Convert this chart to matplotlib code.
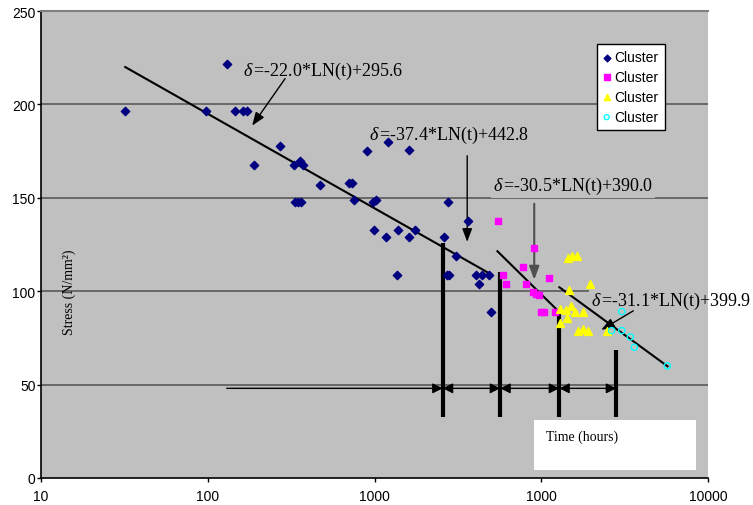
import matplotlib
matplotlib.use("Agg")
import matplotlib.pyplot as plt
from matplotlib.ticker import NullLocator
from matplotlib.patches import Rectangle

plt.rcParams["font.family"] = ["Liberation Sans", "DejaVu Sans"]
plt.rcParams["mathtext.fontset"] = "custom"
plt.rcParams["mathtext.it"] = "Liberation Serif:italic"
plt.rcParams["mathtext.rm"] = "Liberation Serif"

# ── data (time in hours, stress in N/mm²) ─────────────────────────────
blue_t = [32, 97, 130, 145, 162, 171, 190, 272, 330, 334, 347, 363, 358, 375,
          468, 708, 731, 758, 900, 1203, 1621, 973, 1019, 2754, 3631, 995,
          1377, 1738, 1167, 1621, 2594, 3078, 1361, 2716, 2780, 4074, 4406,
          4842, 4206, 5023]
blue_s = [196.6, 196.6, 221.6, 196.6, 196.6, 196.6, 167.7, 177.7, 167.7, 147.7,
          147.7, 147.7, 169.7, 167.8, 156.8, 157.9, 157.9, 148.8, 174.8, 179.8,
          175.7, 148.0, 148.9, 147.7, 137.7, 132.9, 132.9, 132.9, 128.9, 128.9,
          128.9, 118.8, 108.7, 108.7, 108.7, 108.7, 108.7, 108.7, 103.8, 88.8]

pink_t = [5470, 9036, 5861, 6166, 7745, 8128, 11066, 8953, 9290, 9727, 9908,
          10423, 12134]
pink_s = [137.8, 123.0, 108.7, 103.9, 112.9, 103.9, 107.0, 99.8, 98.6, 97.7,
          88.8, 88.8, 88.8]

yellow_t = [14380, 15290, 16290, 19680, 14580, 13010, 14130, 15100, 16000,
            17790, 14220, 12910, 16600, 17790, 19010, 24720]
yellow_s = [117.7, 118.8, 118.8, 103.8, 100.6, 90.3, 89.8, 92.0, 88.8, 88.8,
            85.7, 83.0, 78.9, 79.7, 78.9, 78.8]

cyan_t = [26420, 30410, 30410, 34200, 36140, 57020]
cyan_s = [78.9, 89.1, 78.9, 75.5, 70.0, 60.0]

# trend line segments (t0, s0, t1, s1)
trend_segments = [(32, 220.0, 4940, 109.3),
                  (5460, 121.4, 12270, 90.5),
                  (12850, 102.1, 57200, 59.8)]

# cluster boundaries (t, top stress), bottom stress, arrow level
bound_t = [2565, 5675, 12820, 28180]
bound_top = [125.9, 110.4, 89.5, 68.6]
bound_bottom = 32.7
span_start_t = 130
span_level = 48.0

# equation labels: text, text position, arrow tail, arrow head, arrow colour
equations = [
    ("-22.0*LN(t)+295.6", (163, 218.0), (291, 213.8), (184.6, 188.6), "black", 1.0),
    ("-37.4*LN(t)+442.8", (929, 183.7), (3597, 172.5), (3597, 126.4), "black", 1.0),
    ("-30.5*LN(t)+390.0", (5150, 156.6), (9077, 146.8), (9077, 106.1), "#505050", 1.5),
    ("-31.1*LN(t)+399.9", (19800, 94.8), (35650, 89.5), (22910, 79.3), "black", 1.0),
]

x_ticks = [10, 100, 1000, 10000, 100000]
x_tick_labels = ["10", "100", "1000", "1000", "10000"]
y_ticks = [0, 50, 100, 150, 200, 250]
legend_labels = ["Cluster", "Cluster", "Cluster", "Cluster"]

# ── figure ────────────────────────────────────────────────────────────
fig = plt.figure(figsize=(7.53, 5.06), dpi=100)
ax = fig.add_axes([41 / 753, 27 / 506, 667 / 753, 467 / 506])
ax.set_facecolor("#C0C0C0")
ax.set_xscale("log")
ax.set_xlim(10, 100000)
ax.set_ylim(0, 250)
ax.set_xticks(x_ticks)
ax.set_xticklabels(x_tick_labels)
ax.xaxis.set_minor_locator(NullLocator())
ax.set_yticks(y_ticks)
ax.tick_params(axis="both", labelsize=10, length=3, width=1, direction="out")
ax.tick_params(axis="x", pad=5)
ax.tick_params(axis="y", pad=1)

for y in y_ticks[1:-1]:
    ax.axhline(y, color="#505050", lw=1.1, zorder=1)

ax.spines["right"].set_visible(False)
ax.spines["top"].set_color("#808080")
ax.spines["top"].set_linewidth(1.5)
for side in ("left", "bottom"):
    ax.spines[side].set_linewidth(1.2)

# equation texts and arrows
for eq, pos, tail, head, col, lw in equations:
    txt = ax.text(pos[0], pos[1], r"$\delta\,$=" + eq, fontsize=13,
                  family="Liberation Serif", ha="left", va="center", zorder=2,
                  bbox=dict(facecolor="#C0C0C0", edgecolor="none", pad=1.5))
    # the grey box hides gridlines but must not spill outside the plot area
    txt.get_bbox_patch().set_clip_box(ax.bbox)
    txt.get_bbox_patch().set_clip_on(True)
    ax.annotate("", xy=head, xytext=tail, zorder=3,
                arrowprops=dict(arrowstyle="-|>,head_length=0.8,head_width=0.3",
                                mutation_scale=10, color=col, lw=lw,
                                shrinkA=0, shrinkB=0))

# trend lines
for t0, s0, t1, s1 in trend_segments:
    ax.plot([t0, t1], [s0, s1], color="black", lw=1.5, zorder=3)

# cluster boundaries
for t, top in zip(bound_t, bound_top):
    ax.plot([t, t], [bound_bottom, top], color="black", lw=3, zorder=3,
            solid_capstyle="butt")

span_pts = [span_start_t] + bound_t
for i in range(len(span_pts) - 1):
    style = "-|>" if i == 0 else "<|-|>"
    ax.annotate("", xy=(span_pts[i + 1], span_level),
                xytext=(span_pts[i], span_level), zorder=3,
                arrowprops=dict(arrowstyle=style + ",head_length=0.6,head_width=0.3",
                                mutation_scale=10, color="black", lw=1.0,
                                shrinkA=0, shrinkB=0))

# scatter clusters
h1 = ax.scatter(blue_t, blue_s, marker="D", s=18, color="#000080", zorder=4)
h2 = ax.scatter(pink_t, pink_s, marker="s", s=24, color="#FF00FF", zorder=4)
h3 = ax.scatter(yellow_t, yellow_s, marker="^", s=32, color="#FFFF00", zorder=4)
h4 = ax.scatter(cyan_t, cyan_s, marker="o", s=20, facecolors="none",
                edgecolors="#00FFFF", linewidths=1.0, zorder=4)

leg = fig.legend([h1, h2, h3, h4], legend_labels, loc="upper left",
                 bbox_to_anchor=(597 / 753, 1 - 45 / 506), fontsize=10,
                 frameon=True, fancybox=False, framealpha=1, edgecolor="black",
                 handlelength=0.5, handletextpad=0.3, labelspacing=0.42,
                 borderpad=0.45, borderaxespad=0, markerscale=0.8)
leg.get_frame().set_linewidth(1.0)

# time label box
ax.add_patch(Rectangle((0.739, 0.017), 0.243, 0.107, transform=ax.transAxes,
                       facecolor="white", edgecolor="none", zorder=5))
ax.text(0.757, 0.09, "Time (hours)", transform=ax.transAxes, fontsize=10,
        family="Liberation Serif", ha="left", va="center", zorder=6)

fig.text(69 / 753, 1 - 335 / 506, "Stress (N/mm²)", rotation=90, fontsize=10,
         family="Liberation Serif", ha="center", va="bottom")

fig.savefig("out.png", dpi=100)
